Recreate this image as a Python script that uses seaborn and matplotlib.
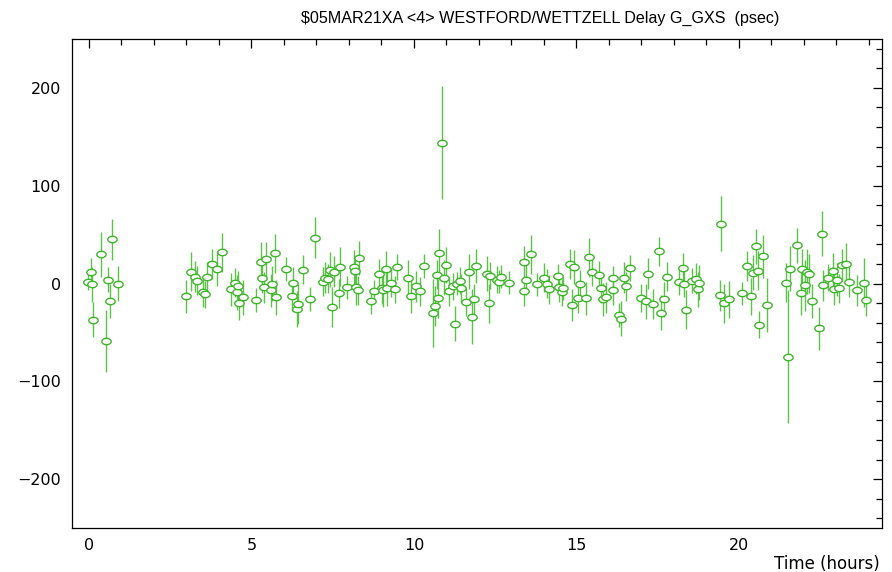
import numpy as np
import pandas as pd
import seaborn as sns
import matplotlib
matplotlib.use("Agg")
import matplotlib.pyplot as plt
from matplotlib.ticker import MultipleLocator

# Delay residuals (psec) and 1-sigma errors versus time (hours)
hours = [-0.03, 0.06, 0.10, 0.12, 0.37, 0.52, 0.58, 0.64, 0.71, 0.88,
         2.98, 3.14, 3.25, 3.33, 3.51, 3.58, 3.63, 3.79, 3.95, 4.08,
         4.38, 4.51, 4.56, 4.59, 4.62, 4.74, 5.13, 5.29, 5.33, 5.39,
         5.45, 5.61, 5.64, 5.71, 5.76, 6.07, 6.25, 6.28, 6.39, 6.42,
         6.58, 6.80, 6.95, 7.20, 7.27, 7.36, 7.43, 7.48, 7.53, 7.69,
         7.74, 7.95, 8.16, 8.20, 8.23, 8.29, 8.32, 8.67, 8.77, 8.91,
         9.03, 9.05, 9.14, 9.18, 9.30, 9.42, 9.49, 9.82, 9.90, 10.05,
         10.18, 10.31, 10.60, 10.66, 10.70, 10.73, 10.76, 10.85, 10.91, 11.00,
         11.07, 11.21, 11.27, 11.32, 11.41, 11.46, 11.61, 11.69, 11.79, 11.86,
         11.91, 12.25, 12.31, 12.35, 12.57, 12.62, 12.69, 12.93, 13.38, 13.39,
         13.45, 13.60, 13.78, 14.01, 14.09, 14.16, 14.42, 14.47, 14.56, 14.59,
         14.80, 14.85, 14.91, 15.05, 15.10, 15.28, 15.38, 15.47, 15.70, 15.75,
         15.83, 15.92, 16.11, 16.13, 16.31, 16.36, 16.46, 16.52, 16.64, 16.98,
         17.15, 17.19, 17.34, 17.55, 17.59, 17.69, 17.80, 18.14, 18.28, 18.32,
         18.36, 18.54, 18.67, 18.73, 18.77, 19.41, 19.46, 19.53, 19.70, 20.10,
         20.26, 20.38, 20.44, 20.51, 20.59, 20.62, 20.73, 20.86, 21.45, 21.52,
         21.56, 21.80, 21.91, 21.94, 22.04, 22.10, 22.16, 22.25, 22.45, 22.54,
         22.57, 22.75, 22.88, 22.93, 23.02, 23.09, 23.17, 23.29, 23.40, 23.62,
         23.85, 23.91]

delay = [2, 12, -1, -37, 30, -59, 4, -18, 45, 0,
         -13, 12, 7, 3, -9, -11, 7, 20, 15, 32,
         -6, 1, -9, -3, -20, -14, -17, 22, 6, -4,
         25, -7, 0, 31, -14, 15, -13, 1, -26, -21,
         14, -16, 47, 2, 6, 5, 14, -24, 12, -10,
         17, -4, 17, 13, -4, -7, 26, -18, -8, 10,
         -5, -7, 15, -5, 1, -6, 17, 6, -13, -3,
         -8, 18, -30, -23, 9, -15, 31, 144, 6, 19,
         -8, -3, -41, 0, 3, -5, -19, 12, -34, -16,
         18, 10, -20, 8, 4, 2, 7, 1, -8, 22,
         4, 30, -1, 6, 0, -6, 8, -4, -9, -5,
         20, -22, 17, -15, 0, -15, 27, 12, 9, -5,
         -16, -14, -7, 6, -32, -36, 6, -3, 16, -15,
         -18, 10, -21, 33, -30, -16, 7, 2, 16, 0,
         -27, 3, 5, -6, 1, -12, 61, -20, -16, -10,
         18, -13, 11, 38, 13, -42, 28, -22, 1, -75,
         15, 39, -10, 15, -2, 12, 10, -18, -46, 51,
         -2, 6, 13, -6, 4, -5, 19, 20, 2, -7,
         1, -17]

sigma = [9, 14, 18, 18, 23, 32, 13, 17, 21, 18,
         17, 20, 16, 15, 15, 14, 15, 15, 18, 20,
         17, 15, 18, 16, 17, 18, 12, 20, 16, 16,
         17, 17, 18, 20, 18, 12, 15, 16, 18, 20,
         15, 12, 21, 15, 16, 15, 18, 20, 16, 15,
         20, 12, 17, 15, 18, 15, 17, 13, 12, 15,
         16, 17, 18, 18, 15, 14, 13, 18, 17, 16,
         15, 12, 35, 20, 15, 20, 25, 58, 18, 18,
         15, 14, 18, 12, 14, 15, 14, 18, 28, 15,
         17, 18, 20, 14, 14, 12, 12, 12, 15, 16,
         16, 20, 12, 15, 15, 15, 12, 15, 14, 12,
         15, 16, 17, 15, 14, 17, 20, 15, 14, 15,
         17, 16, 15, 12, 12, 18, 16, 15, 13, 14,
         18, 16, 15, 15, 18, 18, 15, 14, 15, 14,
         20, 13, 16, 18, 18, 16, 28, 20, 19, 12,
         15, 19, 18, 18, 20, 14, 22, 28, 20, 68,
         23, 18, 22, 20, 26, 23, 20, 17, 22, 23,
         16, 14, 18, 16, 17, 15, 16, 21, 16, 16,
         25, 16]

df = pd.DataFrame({"hours": hours, "delay": delay, "sigma": sigma})

sns.set_theme(style="white")
plt.rcParams["font.family"] = ["DejaVu Sans"]
plt.rcParams["text.color"] = "black"
plt.rcParams["xtick.color"] = "black"
plt.rcParams["ytick.color"] = "black"

fig = plt.figure(figsize=(8.92, 5.72), dpi=100)
ax = fig.add_axes([72 / 892, 44 / 572, 810 / 892, 489 / 572])

green = "#3fb52c"
bar_green = "#5cc24a"

# elliptical open marker, wider than tall
t = np.linspace(0, 2 * np.pi, 40)
ellipse = np.column_stack([np.cos(t), 0.68 * np.sin(t)])

ax.errorbar(df["hours"], df["delay"], yerr=df["sigma"], fmt="none",
            ecolor=bar_green, elinewidth=1.0, capsize=0, zorder=2)
sns.scatterplot(data=df, x="hours", y="delay", ax=ax, marker=ellipse, s=46,
                facecolor="white", edgecolor=green, linewidth=1.0, zorder=3)

ax.set_xlim(-0.52, 24.4)
ax.set_ylim(-250, 250)
ax.xaxis.set_major_locator(MultipleLocator(5))
ax.xaxis.set_minor_locator(MultipleLocator(1))
ax.yaxis.set_major_locator(MultipleLocator(100))
ax.yaxis.set_minor_locator(MultipleLocator(20))
ax.tick_params(which="both", direction="in", top=True, right=True,
               color="black", labelcolor="black", width=0.9)
ax.tick_params(which="major", length=6.5, labelsize=11.5, pad=7)
ax.tick_params(which="minor", length=4)
ax.tick_params(axis="y", which="major", pad=8)
for s in ax.spines.values():
    s.set_color("black")
    s.set_linewidth(0.9)
ax.set_xlabel("")
ax.set_ylabel("")

fig.text(540 / 892, 1 - 18 / 572,
         "$05MAR21XA <4> WESTFORD/WETTZELL Delay G_GXS  (psec)",
         ha="center", va="center", fontsize=11.6, color="black",
         family=["Liberation Sans", "DejaVu Sans"])
fig.text(880 / 892, 1 - 564 / 572, "Time (hours)", ha="right", va="center",
         fontsize=12, color="black")

fig.savefig("out.png", dpi=100)
